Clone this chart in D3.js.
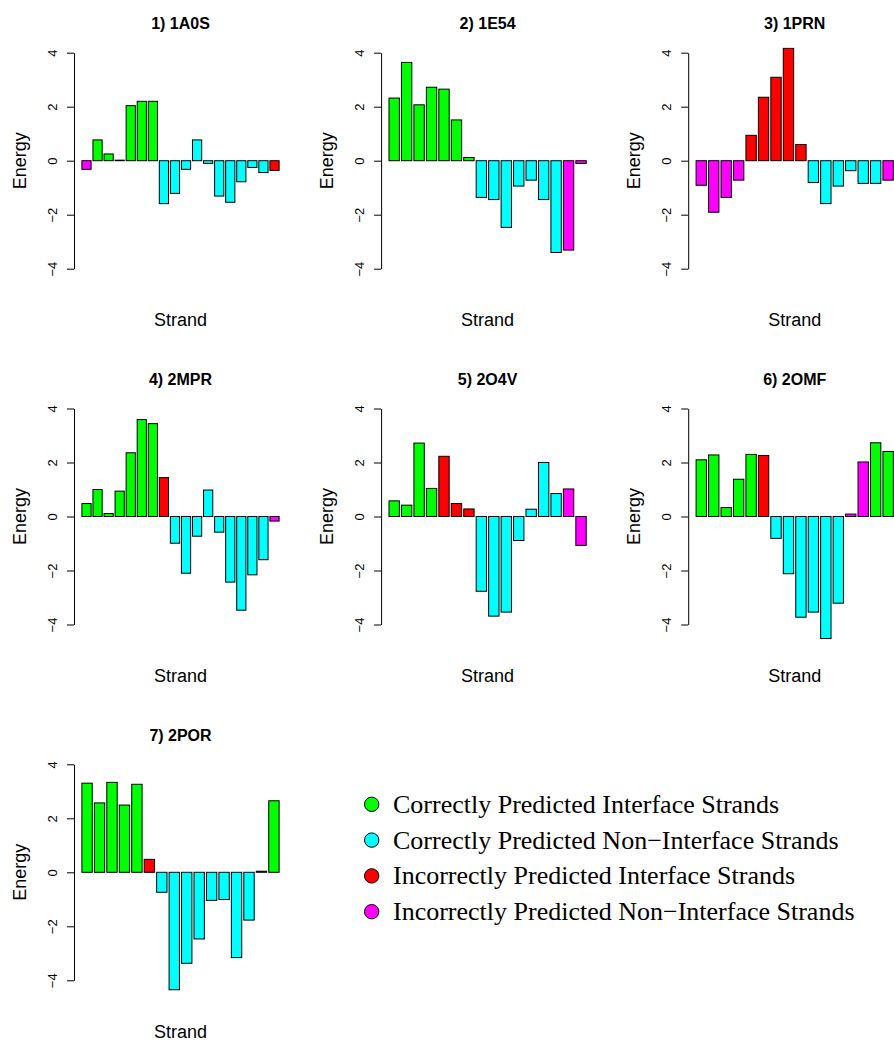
<!DOCTYPE html>
<html>
<head>
<meta charset="utf-8">
<script src="https://cdn.jsdelivr.net/npm/d3@7"></script>
<style>
    body { margin: 0; background: #ffffff; }
    text { font-family: "Liberation Sans", Arial, sans-serif; fill: #000; }
    .legend text { font-family: "Liberation Serif", "Times New Roman", serif; }
</style>
</head>
<body>
<script>
// Panel titles
var titles = ["1) 1A0S", "2) 1E54", "3) 1PRN", "4) 2MPR", "5) 2O4V", "6) 2OMF", "7) 2POR"];

// Strand classes: CI = correct interface, CN = correct non-interface,
// II = incorrect interface, IN = incorrect non-interface
var categories = ["CI", "CN", "II", "IN"];
var categoryLabels = [
    "Correctly Predicted Interface Strands",
    "Correctly Predicted Non\u2212Interface Strands",
    "Incorrectly Predicted Interface Strands",
    "Incorrectly Predicted Non\u2212Interface Strands"
];

// Energy per strand
var energy1 = [-0.32, 0.77, 0.25, 0.02, 2.04, 2.2, 2.2, -1.59, -1.21, -0.32, 0.77, -0.1, -1.31, -1.54, -0.78, -0.25, -0.44, -0.36];
var class1  = ["IN", "CI", "CI", "CI", "CI", "CI", "CI", "CN", "CN", "CN", "CN", "CN", "CN", "CN", "CN", "CN", "CN", "II"];

var energy2 = [2.32, 3.64, 2.07, 2.72, 2.65, 1.51, 0.12, -1.36, -1.44, -2.47, -0.94, -0.72, -1.44, -3.4, -3.31, -0.1];
var class2  = ["CI", "CI", "CI", "CI", "CI", "CI", "CI", "CN", "CN", "CN", "CN", "CN", "CN", "CN", "IN", "IN"];

var energy3 = [-0.91, -1.91, -1.36, -0.72, 0.94, 2.35, 3.09, 4.16, 0.6, -0.81, -1.59, -0.94, -0.37, -0.84, -0.84, -0.72];
var class3  = ["IN", "IN", "IN", "IN", "II", "II", "II", "II", "II", "CN", "CN", "CN", "CN", "CN", "CN", "IN"];

var energy4 = [0.48, 1.0, 0.11, 0.94, 2.36, 3.59, 3.44, 1.44, -0.99, -2.1, -0.73, 0.98, -0.58, -2.43, -3.47, -2.16, -1.6, -0.17];
var class4  = ["CI", "CI", "CI", "CI", "CI", "CI", "CI", "II", "CN", "CN", "CN", "CN", "CN", "CN", "CN", "CN", "CN", "IN"];

var energy5 = [0.58, 0.42, 2.72, 1.04, 2.23, 0.48, 0.28, -2.77, -3.69, -3.54, -0.89, 0.27, 2.0, 0.85, 1.02, -1.07];
var class5  = ["CI", "CI", "CI", "CI", "II", "II", "II", "CN", "CN", "CN", "CN", "CN", "CN", "CN", "IN", "IN"];

var energy6 = [2.1, 2.28, 0.33, 1.38, 2.3, 2.26, -0.81, -2.12, -3.73, -3.54, -4.52, -3.21, 0.09, 2.02, 2.73, 2.41];
var class6  = ["CI", "CI", "CI", "CI", "CI", "II", "CN", "CN", "CN", "CN", "CN", "CN", "IN", "IN", "CI", "CI"];

var energy7 = [3.3, 2.57, 3.33, 2.49, 3.26, 0.48, -0.74, -4.35, -3.37, -2.47, -1.04, -1.01, -3.16, -1.77, 0.04, 2.65];
var class7  = ["CI", "CI", "CI", "CI", "CI", "II", "CN", "CN", "CN", "CN", "CN", "CN", "CN", "CN", "CN", "CI"];

var yTicks = [-4, -2, 0, 2, 4];

function init() {
    var w = 894;
    var h = 1040;
    var plotW = 213;      // width of one plot region
    var half = 108;       // pixels from 0 to +/-4
    var colLeft = [74, 381.1, 688.2];
    var rowZero = [160.7, 516.5, 872.3];

    var colour = d3.scaleOrdinal()
        .domain(categories)
        .range(["#00ff00", "#00ffff", "#ff0000", "#ff00ff"]);

    var energies = [energy1, energy2, energy3, energy4, energy5, energy6, energy7];
    var classes = [class1, class2, class3, class4, class5, class6, class7];

    var svg = d3.select("body")
        .append("svg")
        .attr("width", w)
        .attr("height", h);

    energies.forEach(function(values, p) {
        var left = colLeft[p % 3];
        var zero = rowZero[Math.floor(p / 3)];
        var n = values.length;

        // barplot layout: width 1, space 0.2, 4% padding on the x range
        var span = n * 1.2 - 0.2;
        var xScale = d3.scaleLinear()
            .domain([0.2 - 0.04 * span, n * 1.2 + 0.04 * span])
            .range([left, left + plotW]);

        var yScale = d3.scaleLinear()
            .domain([-4, 4])
            .range([zero + half, zero - half]);

        var data = values.map(function(v, i) {
            return { value: v, cls: classes[p][i], x0: 0.2 + i * 1.2 };
        });

        var g = svg.append("g");

        g.selectAll("rect")
            .data(data)
            .enter()
            .append("rect")
            .attr("x", function(d) { return xScale(d.x0); })
            .attr("width", function(d) { return xScale(d.x0 + 1) - xScale(d.x0); })
            .attr("y", function(d) { return yScale(Math.max(0, d.value)); })
            .attr("height", function(d) { return Math.abs(yScale(d.value) - yScale(0)); })
            .attr("fill", function(d) { return colour(d.cls); })
            .attr("stroke", "#000")
            .attr("stroke-width", 1);

        // y axis with rotated labels
        var axis = g.append("g")
            .attr("transform", "translate(" + left + ",0)")
            .call(d3.axisLeft(yScale).tickValues(yTicks).tickSize(7).tickSizeOuter(0));
        axis.select(".domain").attr("stroke", "#000");
        axis.selectAll(".tick line").attr("stroke", "#000");
        axis.selectAll(".tick text")
            .attr("transform", "rotate(-90)")
            .attr("x", 0)
            .attr("y", -17)
            .attr("dy", 0)
            .attr("text-anchor", "middle")
            .style("font-family", "'Liberation Sans', Arial, sans-serif")
            .style("font-size", "13px")
            .attr("fill", "#000");

        // title
        g.append("text")
            .attr("x", left + plotW / 2)
            .attr("y", zero - 131.5)
            .attr("text-anchor", "middle")
            .style("font-size", "16px")
            .style("font-weight", "bold")
            .text(titles[p]);

        // axis titles
        g.append("text")
            .attr("x", left + plotW / 2)
            .attr("y", zero + 165.5)
            .attr("text-anchor", "middle")
            .style("font-size", "18px")
            .text("Strand");

        g.append("text")
            .attr("transform", "translate(" + (left - 48.5) + "," + zero + ") rotate(-90)")
            .attr("text-anchor", "middle")
            .style("font-size", "18px")
            .text("Energy");
    });

    // legend
    var legendY = d3.scaleLinear()
        .domain([0, 3])
        .range([804.3, 911.7]);

    var legend = svg.append("g")
        .attr("class", "legend");

    var items = legend.selectAll("g")
        .data(categories)
        .enter()
        .append("g")
        .attr("transform", function(d, i) { return "translate(0," + legendY(i) + ")"; });

    items.append("circle")
        .attr("cx", 371.7)
        .attr("cy", 0)
        .attr("r", 7.2)
        .attr("fill", function(d) { return colour(d); })
        .attr("stroke", "#000")
        .attr("stroke-width", 1);

    items.append("text")
        .attr("x", 393)
        .attr("y", 0)
        .attr("dy", "0.33em")
        .style("font-size", "26px")
        .text(function(d, i) { return categoryLabels[i]; });
}

window.onload = init;
</script>
</body>
</html>
